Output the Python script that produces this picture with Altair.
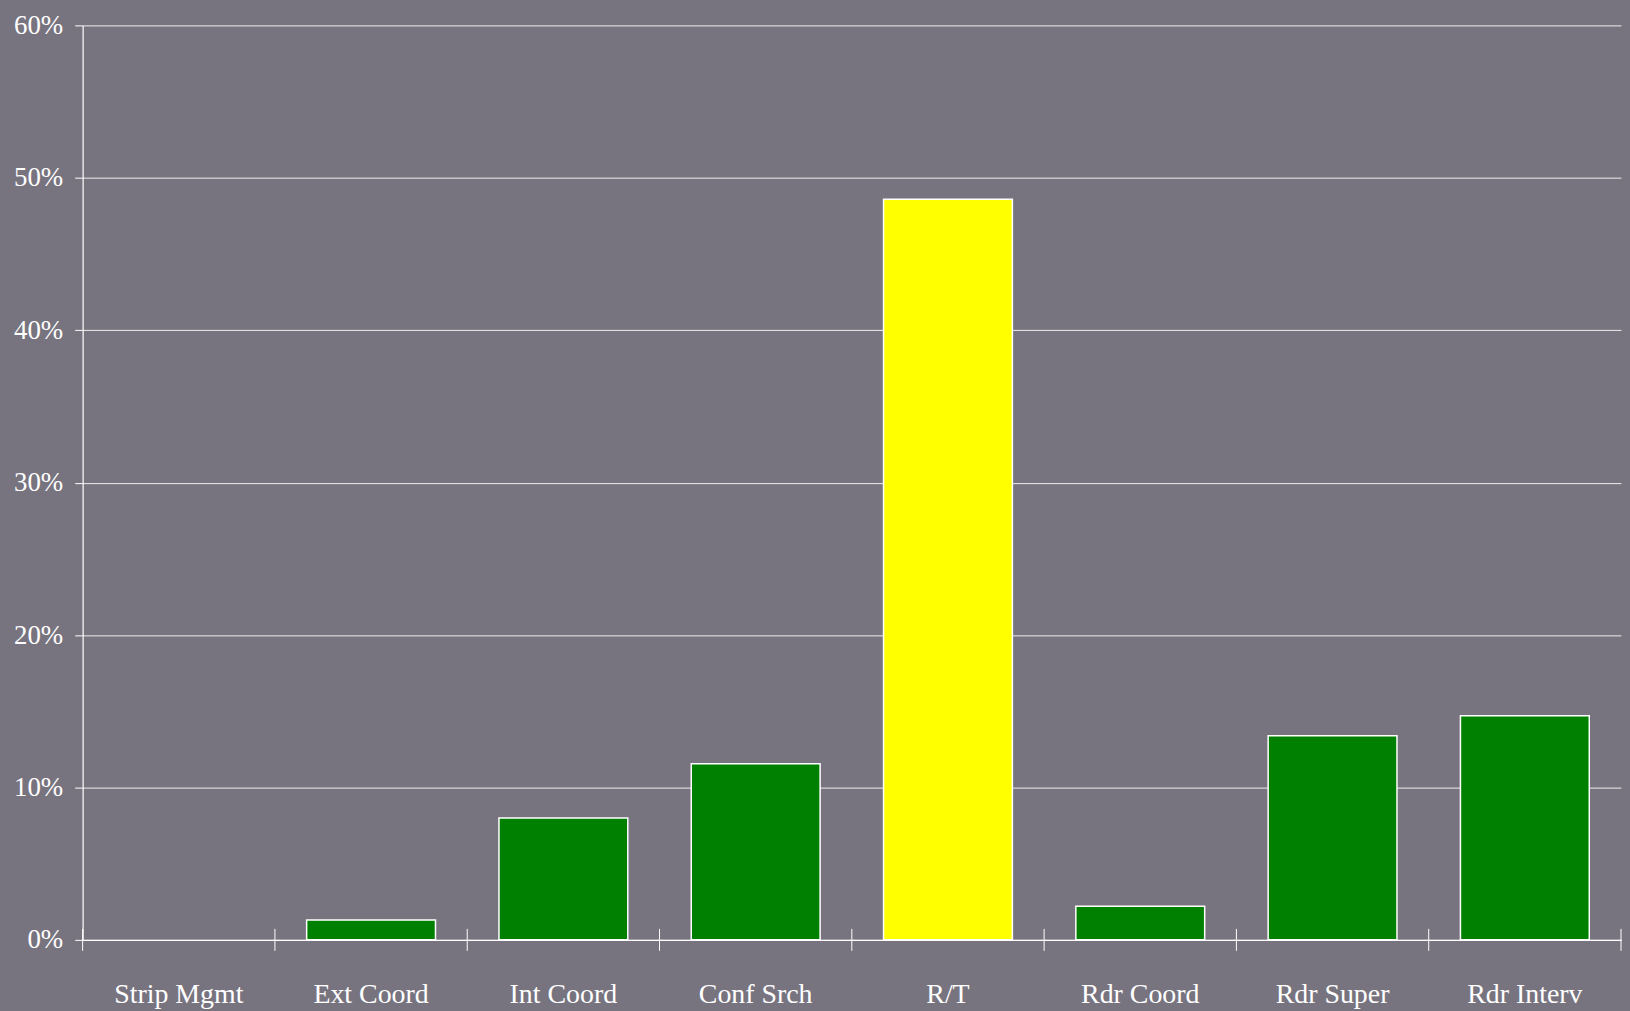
import altair as alt
import pandas as pd

categories = ["Strip Mgmt", "Ext Coord", "Int Coord", "Conf Srch", "R/T",
              "Rdr Coord", "Rdr Super", "Rdr Interv"]
values = [0.0, 1.3, 8.0, 11.55, 48.6, 2.2, 13.4, 14.7]
colors = ["#008000", "#008000", "#008000", "#008000", "#FFFF00",
          "#008000", "#008000", "#008000"]
y_ticks = [0, 10, 20, 30, 40, 50, 60]

W, H = 1546, 919
BG = "#78747F"
FONT = "Liberation Serif"

df = pd.DataFrame({"cat": categories, "val": values, "col": colors})

xscale = alt.Scale(domain=categories, paddingInner=0, paddingOuter=0)
yscale = alt.Scale(domain=[0, 60], nice=False)

bars = alt.Chart(df).transform_filter("datum.val > 0").mark_bar(
    stroke="white", strokeWidth=1.5, width=alt.RelativeBandSize(0.67)).encode(
    x=alt.X("cat:N", scale=xscale, sort=categories,
            axis=alt.Axis(title=None, labelAngle=0, tickSize=0, domain=True,
                          domainColor="white", domainWidth=1.2,
                          labelFont=FONT, labelFontSize=28, labelColor="white",
                          labelPadding=63, labelBaseline="alphabetic")),
    y=alt.Y("val:Q", scale=yscale,
            axis=alt.Axis(title=None, values=y_ticks, tickSize=8, tickColor="white",
                          tickWidth=1, grid=True, gridColor="#F0F0F0", gridWidth=1,
                          domainColor="white", domainWidth=1.2,
                          labelFont=FONT, labelFontSize=27, labelColor="white",
                          labelPadding=12, labelExpr="datum.value + '%'")),
    color=alt.Color("col:N", scale=None),
)

ticks = alt.Chart(df).mark_rule(color="white", strokeWidth=1).encode(
    x=alt.X("cat:N", scale=xscale, sort=categories, bandPosition=0),
    y=alt.value(H - 11),
    y2=alt.value(H + 11),
)

end_tick = alt.Chart(df.head(1)).mark_rule(color="white", strokeWidth=1).encode(
    x=alt.value(W),
    y=alt.value(H - 11),
    y2=alt.value(H + 11),
)

chart = alt.layer(bars, ticks, end_tick).properties(
    width=W, height=H,
    autosize="none",
    padding={"left": 75, "top": 15, "right": 1, "bottom": 69},
    background=BG,
).configure_view(stroke=None)

# Give the page itself the same grey so the 8px margin matches the reference.
try:
    from altair.utils.html import TEMPLATES
    _tpl = TEMPLATES["standard"]
    _orig_render = _tpl.render

    def _render(*args, **kwargs):
        html = _orig_render(*args, **kwargs)
        return html.replace(
            "<head>",
            "<head><style>html,body{background:" + BG + ";}</style>", 1)

    _tpl.render = _render
except Exception:
    pass

chart.save("out.html", embed_options={"renderer": "svg", "actions": False})
